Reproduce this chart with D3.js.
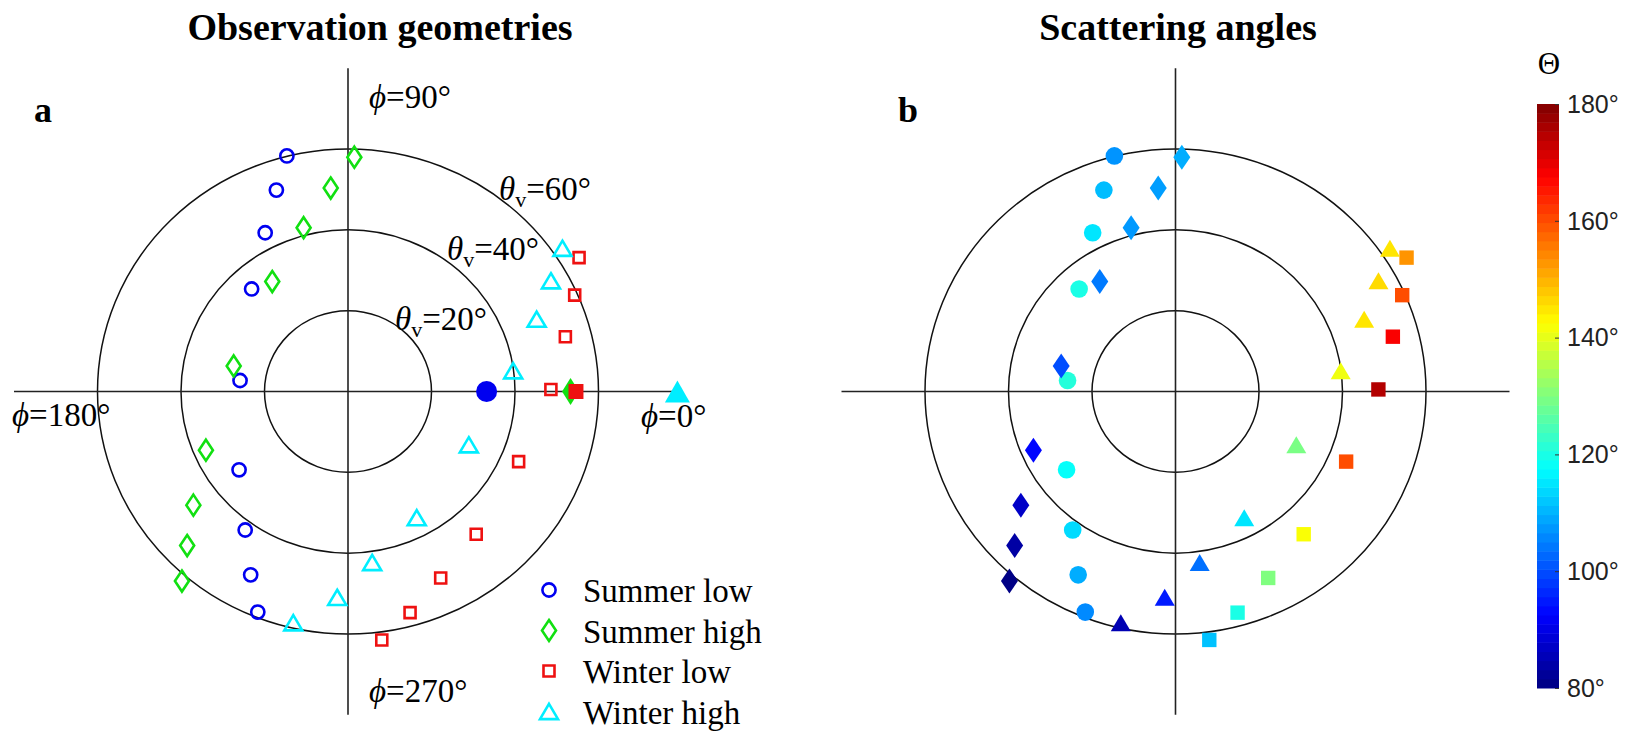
<!DOCTYPE html>
<head>
  <meta charset="utf-8">
  <style>
  body {
    margin: 0;
    background: #fff;
  }

  text {
    font-family: "Liberation Serif", "Times New Roman", serif;
    fill: #000;
  }

  .title {
    font-size: 38px;
    font-weight: bold;
  }

  .tag {
    font-size: 36px;
    font-weight: bold;
  }

  .lbl {
    font-size: 33px;
  }

  .legend text {
    font-size: 33px;
  }

  .cbar text.tick {
    font-family: "Liberation Sans", Arial, sans-serif;
    font-size: 25px;
    fill: #222;
  }
</style>
</head>
<body>
<svg width="1630" height="732"></svg>

<script src="https://cdn.jsdelivr.net/npm/d3@7"></script>
<script>
// series (view zenith and relative azimuth in degrees, scattering angle in degrees)
var seriesNames = ["Summer low", "Summer high", "Winter low", "Winter high"];
var seriesShapes = ["circle", "diamond", "square", "triangle"];
var seriesColors = ["#0000f0", "#11e011", "#ee1111", "#00eeff"];

var summerLowTheta = [60.1, 52.7, 44.0, 34.3, 26.0, 32.5, 42.2, 51.0, 58.7];
var summerLowPhi = [104.1, 109.0, 116.8, 132.3, 174.0, 216.6, 234.3, 242.8, 248.4];
var summerLowScat = [107, 111, 115, 120, 121, 118, 114, 109.5, 106];

var summerHighTheta = [58.0, 50.5, 41.9, 32.7, 28.1, 37.0, 46.5, 54.2, 61.5];
var summerHighPhi = [88.5, 94.7, 104.7, 123.7, 167.0, 203.1, 217.2, 224.7, 229.7];
var summerHighScat = [109.5, 108, 107.5, 104.5, 100, 93, 87, 83.5, 80.5];

var winterLowTheta = [64.5, 59.3, 53.8, 48.6, 44.4, 46.8, 51.2, 56.7, 62.0];
var winterLowPhi = [30.9, 23.7, 14.6, 0.6, 337.0, 311.0, 295.7, 285.2, 277.5];
var winterLowScat = [153, 160, 168, 175, 160, 142, 130, 120, 111.5];

var winterHighTheta = [62.4, 55.8, 48.6, 39.9, 31.8, 35.3, 42.7, 51.0, 58.7];
var winterHighPhi = [34.6, 29.4, 21.6, 7.4, 335.5, 297.8, 277.8, 267.1, 257.1];
var winterHighScat = [145, 146, 145, 141, 129.5, 115, 103.5, 95, 85];

// solar zenith per series (plotted at phi = 0)
var sunTheta = [33.2, 53.3, 54.6, 78.9];

var rings = [20, 40, 60];
var cbTicks = [80, 100, 120, 140, 160, 180];

var thetas = [summerLowTheta, summerHighTheta, winterLowTheta, winterHighTheta];
var phis = [summerLowPhi, summerHighPhi, winterLowPhi, winterHighPhi];
var scats = [summerLowScat, summerHighScat, winterLowScat, winterHighScat];

var svg = d3.select("svg");

var jet = d3.scaleLinear()
  .domain([80, 92.5, 117.5, 142.5, 167.5, 180])
  .range(["#000080", "#0000ff", "#00ffff", "#ffff00", "#ff0000", "#800000"])
  .clamp(true);

function makeScales(cx, cy) {
  return {
    x: d3.scaleLinear().domain([-60, 60]).range([cx - 250.5, cx + 250.5]),
    y: d3.scaleLinear().domain([-60, 60]).range([cy + 242.5, cy - 242.5])
  };
}

var pa = makeScales(348, 391.5),
  pb = makeScales(1175.5, 391.5);

// marker outline centred on 0,0
function shapePath(shape, w, h) {
  var p = d3.path();
  if (shape === "circle") {
    p.moveTo(w, 0);
    p.arc(0, 0, w, 0, 2 * Math.PI);
  } else if (shape === "diamond") {
    p.moveTo(0, -h); p.lineTo(w, 0); p.lineTo(0, h); p.lineTo(-w, 0);
  } else if (shape === "square") {
    p.rect(-w, -w, 2 * w, 2 * w);
  } else {
    p.moveTo(0, -h); p.lineTo(w, h); p.lineTo(-w, h);
  }
  p.closePath();
  return p.toString();
}

var openSize = { circle: [6.6, 6.6], diamond: [7, 10.5], square: [5.5, 5.5], triangle: [9, 7.6] };
var sunSize = { circle: [10.5, 10.5], diamond: [8.5, 13.5], square: [7.5, 7.5], triangle: [12.5, 11] };
var fillSize = { circle: [8.8, 8.8], diamond: [8.5, 12.5], square: [7.2, 7.2], triangle: [10, 8.5] };

function pointsOf(i) {
  return thetas[i].map(function(t, j) {
    return { theta: t, phi: phis[i][j], scat: scats[i][j] };
  });
}

function px(s, d) {
  return s.x(d.theta * Math.cos(d.phi * Math.PI / 180));
}
function py(s, d) {
  return s.y(d.theta * Math.sin(d.phi * Math.PI / 180));
}

function drawFrame(s) {
  var g = svg.append("g");
  g.selectAll("ellipse")
    .data(rings)
    .enter()
    .append("ellipse")
    .attr("cx", s.x(0))
    .attr("cy", s.y(0))
    .attr("rx", function(d) { return s.x(d) - s.x(0); })
    .attr("ry", function(d) { return s.y(0) - s.y(d); })
    .attr("fill", "none")
    .attr("stroke", "#111")
    .attr("stroke-width", 1.5);
  g.append("line")
    .attr("x1", s.x(-80)).attr("x2", s.x(80))
    .attr("y1", s.y(0)).attr("y2", s.y(0))
    .attr("stroke", "#222").attr("stroke-width", 1.6);
  g.append("line")
    .attr("x1", s.x(0)).attr("x2", s.x(0))
    .attr("y1", s.y(80)).attr("y2", s.y(-80))
    .attr("stroke", "#222").attr("stroke-width", 1.6);
}

drawFrame(pa);
drawFrame(pb);

// panel a: open markers for view geometries
seriesNames.forEach(function(name, i) {
  var shape = seriesShapes[i];
  svg.append("g")
    .selectAll("path")
    .data(pointsOf(i))
    .enter()
    .append("path")
    .attr("d", shapePath(shape, openSize[shape][0], openSize[shape][1]))
    .attr("transform", function(d) {
      return "translate(" + px(pa, d) + "," + py(pa, d) + ")";
    })
    .attr("fill", "none")
    .attr("stroke", seriesColors[i])
    .attr("stroke-width", 2.6);
});

// panel a: filled markers for the sun positions
svg.append("g")
  .selectAll("path")
  .data(sunTheta.map(function(t, i) { return { theta: t, phi: 0, i: i }; }))
  .enter()
  .append("path")
  .attr("d", function(d) {
    var shape = seriesShapes[d.i];
    return shapePath(shape, sunSize[shape][0], sunSize[shape][1]);
  })
  .attr("transform", function(d) {
    return "translate(" + px(pa, d) + "," + py(pa, d) + ")";
  })
  .attr("fill", function(d) { return seriesColors[d.i]; });

// panel b: filled markers coloured by scattering angle
seriesNames.forEach(function(name, i) {
  var shape = seriesShapes[i];
  svg.append("g")
    .selectAll("path")
    .data(pointsOf(i))
    .enter()
    .append("path")
    .attr("d", shapePath(shape, fillSize[shape][0], fillSize[shape][1]))
    .attr("transform", function(d) {
      return "translate(" + px(pb, d) + "," + py(pb, d) + ")";
    })
    .attr("fill", function(d) { return jet(d.scat); });
});

// titles and panel tags
svg.append("text").attr("class", "title").attr("x", 380).attr("y", 40)
  .attr("text-anchor", "middle").text("Observation geometries");
svg.append("text").attr("class", "title").attr("x", 1178).attr("y", 40)
  .attr("text-anchor", "middle").text("Scattering angles");
svg.append("text").attr("class", "tag").attr("x", 34).attr("y", 122).text("a");
svg.append("text").attr("class", "tag").attr("x", 898).attr("y", 122).text("b");

// azimuth labels
function phiLabel(x, y, deg) {
  var t = svg.append("text").attr("class", "lbl").attr("x", x).attr("y", y);
  t.append("tspan").style("font-style", "italic").text("\u03d5");
  t.append("tspan").text("=" + deg + "\u00b0");
}
phiLabel(369, 108, 90);
phiLabel(12, 426, 180);
phiLabel(641, 427, 0);
phiLabel(369, 702, 270);

// zenith ring labels
function thetaLabel(x, y, deg) {
  var t = svg.append("text").attr("class", "lbl").attr("x", x).attr("y", y);
  t.append("tspan").style("font-style", "italic").text("\u03b8");
  t.append("tspan").attr("dy", 7).style("font-size", "22px").text("v");
  t.append("tspan").attr("dy", -7).text("=" + deg + "\u00b0");
}
thetaLabel(499, 200, 60);
thetaLabel(447, 260, 40);
thetaLabel(395, 330, 20);

// legend
var legend = svg.append("g").attr("class", "legend");
var lg = legend.selectAll("g")
  .data(seriesNames)
  .enter()
  .append("g")
  .attr("transform", function(d, i) { return "translate(549," + (590 + i * 40.5) + ")"; });
lg.append("path")
  .attr("d", function(d, i) {
    var shape = seriesShapes[i];
    return shapePath(shape, openSize[shape][0], openSize[shape][1]);
  })
  .attr("fill", "none")
  .attr("stroke", function(d, i) { return seriesColors[i]; })
  .attr("stroke-width", 2.6);
lg.append("text")
  .attr("x", 34)
  .attr("y", 12)
  .text(function(d) { return d; });

// colour bar
var cb = svg.append("g").attr("class", "cbar");
var cbY = d3.scaleLinear().domain([80, 180]).range([688, 104]);
var steps = d3.range(64).map(function(k) { return 80 + k * 100 / 64; });
cb.selectAll("rect")
  .data(steps)
  .enter()
  .append("rect")
  .attr("x", 1537)
  .attr("width", 22)
  .attr("y", function(d) { return cbY(d + 100 / 64); })
  .attr("height", function(d) { return cbY(d) - cbY(d + 100 / 64) + 0.5; })
  .attr("fill", function(d) { return jet(d + 50 / 64); });
cb.append("g")
  .attr("transform", "translate(1559,0)")
  .call(d3.axisLeft(cbY).tickValues(cbTicks).tickSize(4).tickFormat(""))
  .call(function(g) { g.select(".domain").remove(); })
  .selectAll("line").attr("stroke", "#333");
cb.selectAll("text.tick")
  .data(cbTicks)
  .enter()
  .append("text")
  .attr("class", "tick")
  .attr("x", 1567)
  .attr("y", function(d) { return cbY(d); })
  .attr("dy", "0.35em")
  .text(function(d) { return d + "\u00b0"; });
cb.append("text")
  .attr("x", 1549)
  .attr("y", 74)
  .attr("text-anchor", "middle")
  .style("font-size", "31px")
  .text("\u0398");
</script>
</body>
